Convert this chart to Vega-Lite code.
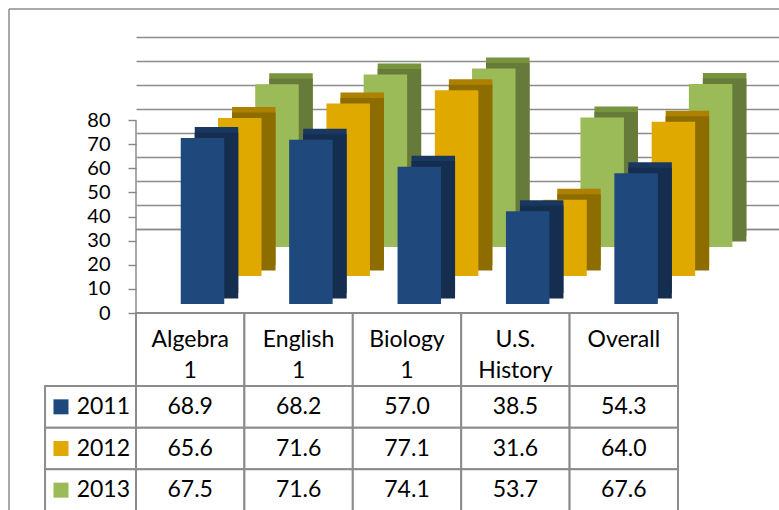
{
  "$schema": "https://vega.github.io/schema/vega-lite/v6.json",
  "padding": {"left": 8, "top": 8, "right": 0, "bottom": 0},
  "background": "white",
  "config": {"view": {"stroke": null}, "text": {"font": "Lato"}, "axis": {"labelFont": "Lato"}},
  "datasets": {
    "scores": [
      {"cat": "Algebra 1", "year": "2011", "value": 68.9},
      {"cat": "Algebra 1", "year": "2012", "value": 65.6},
      {"cat": "Algebra 1", "year": "2013", "value": 67.5},
      {"cat": "English 1", "year": "2011", "value": 68.2},
      {"cat": "English 1", "year": "2012", "value": 71.6},
      {"cat": "English 1", "year": "2013", "value": 71.6},
      {"cat": "Biology 1", "year": "2011", "value": 57.0},
      {"cat": "Biology 1", "year": "2012", "value": 77.1},
      {"cat": "Biology 1", "year": "2013", "value": 74.1},
      {"cat": "U.S. History", "year": "2011", "value": 38.5},
      {"cat": "U.S. History", "year": "2012", "value": 31.6},
      {"cat": "U.S. History", "year": "2013", "value": 53.7},
      {"cat": "Overall", "year": "2011", "value": 54.3},
      {"cat": "Overall", "year": "2012", "value": 64.0},
      {"cat": "Overall", "year": "2013", "value": 67.6}
    ]
  },
  "columns": 2,
  "spacing": 0,
  "bounds": "flush",
  "align": "each",
  "concat": [
    {
      "width": 127, "height": 304,
      "data": {"name": "scores"},
      "transform": [{"aggregate": [{"op": "count", "as": "n"}]}],
      "layer": [
        {"mark": {"type": "rule", "color": "#8c8c8c", "strokeWidth": 1.5},
         "encoding": {"x": {"datum": 0, "type": "quantitative", "scale": {"domain": [0, 1], "nice": false}, "axis": null}}},
        {"mark": {"type": "rule", "color": "#8c8c8c", "strokeWidth": 1.5},
         "encoding": {"y": {"datum": 1, "type": "quantitative", "scale": {"domain": [0, 1], "nice": false}, "axis": null}}}
      ]
    },
    {
      "width": 644, "height": 304,
      "data": {"name": "scores"},
      "layer": [
        {"transform": [{"aggregate": [{"op": "count", "as": "n"}]}],
         "mark": {"type": "rule", "color": "#8c8c8c", "strokeWidth": 1.4},
         "encoding": {"y": {"datum": 0, "type": "quantitative", "scale": {"domain": [-34.65, 91.49], "nice": false},
           "axis": {"orient": "left", "values": [0, 10, 20, 30, 40, 50, 60, 70, 80], "grid": true, "gridColor": "#8c8c8c", "gridWidth": 1.4, "labels": false, "ticks": false, "domain": false, "title": null}}}},
        {"transform": [{"filter": "datum.year === '2013'"}],
         "mark": {"type": "bar", "color": "#77933D"},
         "encoding": {"x": {"field": "cat", "type": "nominal", "scale": {"type": "band", "domain": ["Algebra 1", "English 1", "Biology 1", "U.S. History", "Overall"], "paddingInner": 0.5987, "paddingOuter": 0.7698, "align": 0.7984, "round": false}, "axis": null},
                      "y": {"field": "value", "type": "quantitative", "scale": {"domain": [-31.95, 94.19], "nice": false}, "axis": null}}},
        {"transform": [{"filter": "datum.year === '2013'"}],
         "mark": {"type": "bar", "color": "#667A3A"},
         "encoding": {"x": {"field": "cat", "type": "nominal", "scale": {"type": "band", "domain": ["Algebra 1", "English 1", "Biology 1", "U.S. History", "Overall"], "paddingInner": 0.5987, "paddingOuter": 0.7698, "align": 0.7984, "round": false}, "axis": null},
                      "y": {"field": "value", "type": "quantitative", "scale": {"domain": [-29.67, 96.47], "nice": false}, "axis": null}}},
        {"transform": [{"filter": "datum.year === '2013'"}],
         "mark": {"type": "bar", "color": "#9BBB59"},
         "encoding": {"x": {"field": "cat", "type": "nominal", "scale": {"type": "band", "domain": ["Algebra 1", "English 1", "Biology 1", "U.S. History", "Overall"], "paddingInner": 0.5987, "paddingOuter": 0.7698, "align": 0.7145, "round": false}, "axis": null},
                      "y": {"field": "value", "type": "quantitative", "scale": {"domain": [-27.39, 98.76], "nice": false}, "axis": null}}},
        {"transform": [{"filter": "datum.year === '2012'"}],
         "mark": {"type": "bar", "color": "#AD8000"},
         "encoding": {"x": {"field": "cat", "type": "nominal", "scale": {"type": "band", "domain": ["Algebra 1", "English 1", "Biology 1", "U.S. History", "Overall"], "paddingInner": 0.5987, "paddingOuter": 0.7698, "align": 0.5755, "round": false}, "axis": null},
                      "y": {"field": "value", "type": "quantitative", "scale": {"domain": [-19.92, 106.22], "nice": false}, "axis": null}}},
        {"transform": [{"filter": "datum.year === '2012'"}],
         "mark": {"type": "bar", "color": "#8D6C00"},
         "encoding": {"x": {"field": "cat", "type": "nominal", "scale": {"type": "band", "domain": ["Algebra 1", "English 1", "Biology 1", "U.S. History", "Overall"], "paddingInner": 0.5987, "paddingOuter": 0.7698, "align": 0.5755, "round": false}, "axis": null},
                      "y": {"field": "value", "type": "quantitative", "scale": {"domain": [-17.63, 108.51], "nice": false}, "axis": null}}},
        {"transform": [{"filter": "datum.year === '2012'"}],
         "mark": {"type": "bar", "color": "#DFA900"},
         "encoding": {"x": {"field": "cat", "type": "nominal", "scale": {"type": "band", "domain": ["Algebra 1", "English 1", "Biology 1", "U.S. History", "Overall"], "paddingInner": 0.5987, "paddingOuter": 0.7698, "align": 0.4916, "round": false}, "axis": null},
                      "y": {"field": "value", "type": "quantitative", "scale": {"domain": [-15.35, 110.79], "nice": false}, "axis": null}}},
        {"transform": [{"filter": "datum.year === '2011'"}],
         "mark": {"type": "bar", "color": "#183860"},
         "encoding": {"x": {"field": "cat", "type": "nominal", "scale": {"type": "band", "domain": ["Algebra 1", "English 1", "Biology 1", "U.S. History", "Overall"], "paddingInner": 0.5987, "paddingOuter": 0.7698, "align": 0.3520, "round": false}, "axis": null},
                      "y": {"field": "value", "type": "quantitative", "scale": {"domain": [-8.30, 117.84], "nice": false}, "axis": null}}},
        {"transform": [{"filter": "datum.year === '2011'"}],
         "mark": {"type": "bar", "color": "#152E50"},
         "encoding": {"x": {"field": "cat", "type": "nominal", "scale": {"type": "band", "domain": ["Algebra 1", "English 1", "Biology 1", "U.S. History", "Overall"], "paddingInner": 0.5987, "paddingOuter": 0.7698, "align": 0.3520, "round": false}, "axis": null},
                      "y": {"field": "value", "type": "quantitative", "scale": {"domain": [-6.02, 120.12], "nice": false}, "axis": null}}},
        {"transform": [{"filter": "datum.year === '2011'"}],
         "mark": {"type": "bar", "color": "#1F497D"},
         "encoding": {"x": {"field": "cat", "type": "nominal", "scale": {"type": "band", "domain": ["Algebra 1", "English 1", "Biology 1", "U.S. History", "Overall"], "paddingInner": 0.5987, "paddingOuter": 0.7698, "align": 0.2681, "round": false}, "axis": null},
                      "y": {"field": "value", "type": "quantitative", "scale": {"domain": [-3.73, 122.41], "nice": false}, "axis": null}}},
        {"transform": [{"aggregate": [{"op": "count", "as": "n"}]}],
         "mark": {"type": "rule", "color": "#868686", "strokeWidth": 1.4},
         "encoding": {
           "x": {"datum": 0, "type": "quantitative", "scale": {"domain": [0, 1], "nice": false}, "axis": null},
           "y": {"datum": 0, "type": "quantitative", "scale": {"domain": [0, 126.14], "nice": false},
             "axis": {"orient": "left", "values": [0, 10, 20, 30, 40, 50, 60, 70, 80], "domain": false, "grid": false, "ticks": true, "tickSize": 8, "tickColor": "#868686", "tickWidth": 1.4, "labelFontSize": 20, "labelFont": "Lato", "labelColor": "#000000", "labelPadding": 18, "title": null}},
           "y2": {"datum": 80}
         }},
        {"transform": [{"aggregate": [{"op": "count", "as": "n"}]}],
         "mark": {"type": "rule", "color": "#8c8c8c", "strokeWidth": 1.5},
         "encoding": {"y": {"datum": 1, "type": "quantitative", "scale": {"domain": [0, 1], "nice": false}, "axis": null}}}
      ],
      "resolve": {"scale": {"x": "independent", "y": "independent"}}
    },
    {
      "width": 127, "height": 73,
      "data": {"name": "scores"},
      "transform": [{"aggregate": [{"op": "count", "as": "n"}]}],
      "mark": {"type": "rule", "color": "#8c8c8c", "strokeWidth": 1.5},
      "encoding": {"x": {"datum": 0, "type": "quantitative", "scale": {"domain": [0, 1], "nice": false}, "axis": null}}
    },
    {
      "width": 542, "height": 73,
      "data": {"name": "scores"},
      "transform": [{"aggregate": [{"op": "count", "as": "n"}], "groupby": ["cat"]}],
      "encoding": {"x": {"field": "cat", "type": "nominal", "scale": {"type": "band", "domain": ["Algebra 1", "English 1", "Biology 1", "U.S. History", "Overall"], "paddingInner": 0, "paddingOuter": 0}, "axis": null}},
      "layer": [
        {"mark": {"type": "rect", "fill": "white", "stroke": "#8c8c8c", "strokeWidth": 2}},
        {"mark": {"type": "text", "fontSize": 23, "font": "Lato", "color": "#000000", "baseline": "top", "lineBreak": " ", "lineHeight": 31, "dy": -21},
         "encoding": {"text": {"field": "cat"}}}
      ]
    },
    {
      "width": 127, "height": 125,
      "data": {"name": "scores"},
      "transform": [{"aggregate": [{"op": "count", "as": "n"}], "groupby": ["year"]}],
      "layer": [
        {"mark": {"type": "rect", "fill": "white", "stroke": "#8c8c8c", "strokeWidth": 2},
         "encoding": {
           "x": {"datum": "key", "type": "nominal", "scale": {"type": "band", "domain": ["key"], "paddingInner": 0, "paddingOuter": 0.198, "align": 1}, "axis": null},
           "y": {"field": "year", "type": "nominal", "scale": {"type": "band", "domain": ["2011", "2012", "2013"], "paddingInner": 0, "paddingOuter": 0}, "axis": null}}},
        {"mark": {"type": "point", "shape": "square", "filled": true, "size": 225, "opacity": 1},
         "encoding": {
           "x": {"datum": "swatch", "type": "nominal", "scale": {"type": "point", "domain": ["swatch", "label"], "padding": 1.03, "align": 0.614}, "axis": null},
           "y": {"field": "year", "type": "nominal", "axis": null},
           "color": {"field": "year", "type": "nominal", "scale": {"domain": ["2011", "2012", "2013"], "range": ["#1F497D", "#DFA900", "#9BBB59"]}, "legend": null}}},
        {"mark": {"type": "text", "fontSize": 23, "font": "Lato", "color": "#000000"},
         "encoding": {
           "x": {"datum": "label", "type": "nominal", "scale": {"type": "point", "domain": ["swatch", "label"], "padding": 1.03, "align": 0.614}, "axis": null},
           "y": {"field": "year", "type": "nominal", "axis": null},
           "text": {"field": "year"}}},
        {"transform": [{"aggregate": [{"op": "count", "as": "m"}]}],
         "mark": {"type": "rule", "color": "#8c8c8c", "strokeWidth": 1.5},
         "encoding": {"x": {"datum": 0, "type": "quantitative", "scale": {"domain": [0, 1], "nice": false}, "axis": null}}}
      ],
      "resolve": {"scale": {"x": "independent"}}
    },
    {
      "width": 542, "height": 125,
      "data": {"name": "scores"},
      "encoding": {
        "x": {"field": "cat", "type": "nominal", "scale": {"type": "band", "domain": ["Algebra 1", "English 1", "Biology 1", "U.S. History", "Overall"], "paddingInner": 0, "paddingOuter": 0}, "axis": null},
        "y": {"field": "year", "type": "nominal", "scale": {"type": "band", "domain": ["2011", "2012", "2013"], "paddingInner": 0, "paddingOuter": 0}, "axis": null}
      },
      "layer": [
        {"mark": {"type": "rect", "fill": "white", "stroke": "#8c8c8c", "strokeWidth": 2}},
        {"mark": {"type": "text", "fontSize": 23, "font": "Lato", "color": "#000000"},
         "encoding": {"text": {"field": "value", "type": "quantitative", "format": ".1f"}}}
      ]
    }
  ]
}
